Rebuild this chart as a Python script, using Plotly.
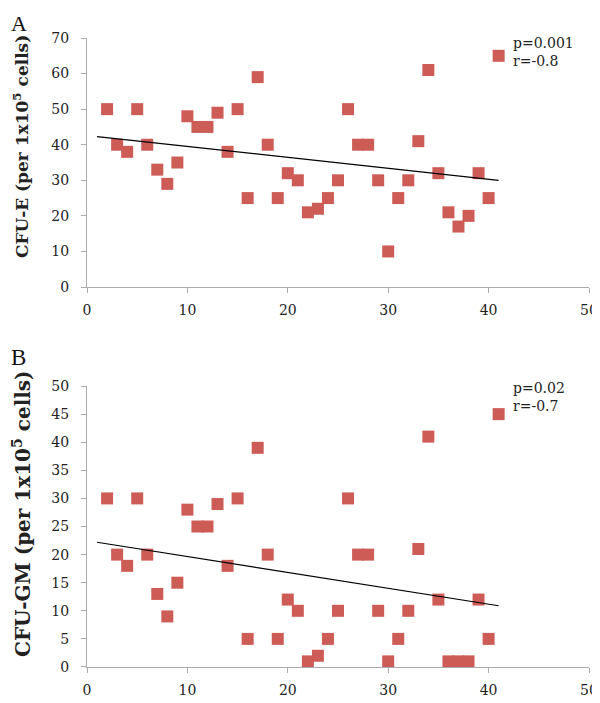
import plotly.graph_objects as go
from plotly.subplots import make_subplots

# ---- data ----
patients = list(range(2, 42))
cfu_e = [50, 40, 38, 50, 40, 33, 29, 35, 48, 45, 45, 49, 38, 50, 25, 59, 40, 25, 32, 30,
         21, 22, 25, 30, 50, 40, 40, 30, 10, 25, 30, 41, 61, 32, 21, 17, 20, 32, 25, 65]
cfu_gm = [30, 20, 18, 30, 20, 13, 9, 15, 28, 25, 25, 29, 18, 30, 5, 39, 20, 5, 12, 10,
          1, 2, 5, 10, 30, 20, 20, 10, 1, 5, 10, 21, 41, 12, 1, 1, 1, 12, 5, 45]
trend_x = [1, 41]
trend_e = [42.3, 30.0]
trend_gm = [22.2, 10.9]
x_ticks = [0, 10, 20, 30, 40, 50]
e_ticks = [0, 10, 20, 30, 40, 50, 60, 70]
gm_ticks = [0, 5, 10, 15, 20, 25, 30, 35, 40, 45, 50]
stats_e = "p=0.001<br>r=-0.8"
stats_gm = "p=0.02<br>r=-0.7"

marker_color = "#CD5C57"
axis_color = "#ABABAB"
tick_font = dict(family="DejaVu Serif", size=14, color="#222222")

fig = make_subplots(rows=2, cols=1)

fig.add_trace(go.Scatter(x=patients, y=cfu_e, mode="markers", cliponaxis=False,
                         marker=dict(symbol="square", size=12, color=marker_color)), row=1, col=1)
fig.add_trace(go.Scatter(x=trend_x, y=trend_e, mode="lines",
                         line=dict(color="black", width=1.2)), row=1, col=1)
fig.add_trace(go.Scatter(x=patients, y=cfu_gm, mode="markers", cliponaxis=False,
                         marker=dict(symbol="square", size=12, color=marker_color)), row=2, col=1)
fig.add_trace(go.Scatter(x=trend_x, y=trend_gm, mode="lines",
                         line=dict(color="black", width=1.2)), row=2, col=1)

xcommon = dict(range=[0, 50], tickvals=x_ticks, showgrid=False, zeroline=False,
               showline=True, linecolor=axis_color, linewidth=1.3,
               ticks="outside", ticklen=5, tickcolor=axis_color, tickfont=tick_font,
               ticklabelstandoff=5, automargin=False)
fig.update_xaxes(**xcommon)
fig.update_xaxes(domain=[0, 1])

ycommon = dict(showgrid=False, zeroline=False, showline=True, linecolor=axis_color,
               linewidth=1.3, ticks="outside", ticklen=5, tickcolor=axis_color,
               tickfont=tick_font, ticklabelstandoff=9, automargin=False)
fig.update_yaxes(**ycommon)
fig.update_yaxes(range=[0, 70], tickvals=e_ticks, domain=[0.6041, 1.0], row=1, col=1)
fig.update_yaxes(range=[0, 50], tickvals=gm_ticks, domain=[0.0, 0.4467], row=2, col=1)

ann = []
ann.append(dict(text="<b>CFU-E (per 1x10<sup>5</sup> cells)</b>", xref="paper", yref="paper",
                x=-0.1315, y=0.8283, textangle=-90, showarrow=False,
                xanchor="center", yanchor="middle",
                font=dict(family="DejaVu Serif", size=17, color="#222222")))
ann.append(dict(text="<b>CFU-GM (per 1x10<sup>5</sup> cells)</b>", xref="paper", yref="paper",
                x=-0.1295, y=0.2448, textangle=-90, showarrow=False,
                xanchor="center", yanchor="middle",
                font=dict(family="DejaVu Serif", size=20, color="#222222")))
ann.append(dict(text="A", xref="paper", yref="paper", x=-0.155, y=1.046, showarrow=False,
                xanchor="left", yanchor="top",
                font=dict(family="Liberation Serif", size=22, color="#111111")))
ann.append(dict(text="B", xref="paper", yref="paper", x=-0.155, y=0.4928, showarrow=False,
                xanchor="left", yanchor="middle",
                font=dict(family="Liberation Serif", size=23, color="#111111")))
ann.append(dict(text=stats_e, xref="paper", yref="paper", x=0.845, y=0.978, showarrow=False,
                xanchor="left", yanchor="middle", align="left",
                font=dict(family="DejaVu Serif", size=14, color="#222222")))
ann.append(dict(text=stats_gm, xref="paper", yref="paper", x=0.845, y=0.429, showarrow=False,
                xanchor="left", yanchor="middle", align="left",
                font=dict(family="DejaVu Serif", size=14, color="#222222")))

# page body adds an 8px offset, margins compensate for it
fig.update_layout(width=600, height=703, margin=dict(l=79, r=19, t=30, b=44),
                  paper_bgcolor="white", plot_bgcolor="white", showlegend=False,
                  annotations=ann)

fig.write_html("out.html")
